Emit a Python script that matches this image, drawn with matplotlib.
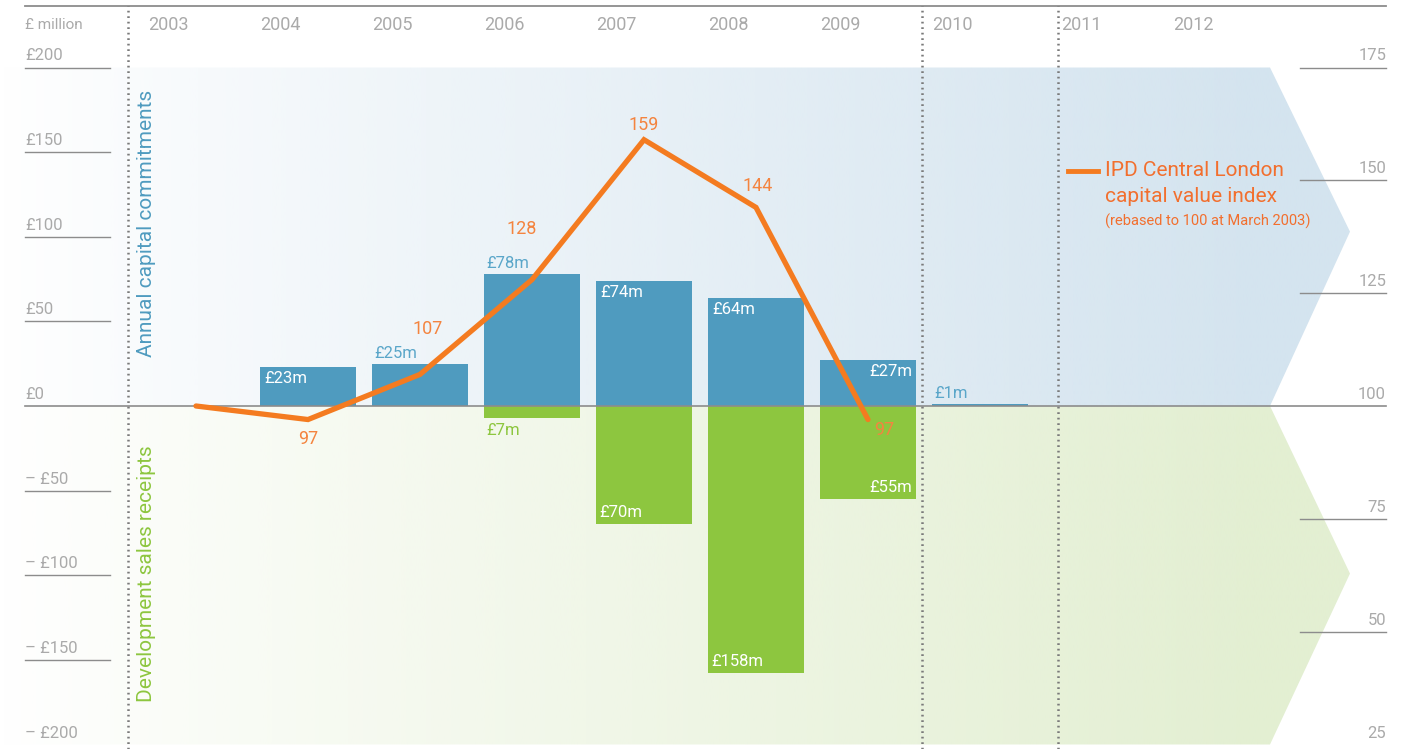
import numpy as np
import matplotlib
matplotlib.use("Agg")
import matplotlib.pyplot as plt
from matplotlib.patches import Polygon
from matplotlib.transforms import blended_transform_factory

# data
years = [2004, 2005, 2006, 2007, 2008, 2009, 2010]
commitments = [23, 25, 78, 74, 64, 27, 1]          # £m, above zero
receipts = [0, 0, 7, 70, 158, 55, 0]               # £m, drawn below zero
index_years = [2003, 2004, 2005, 2006, 2007, 2008, 2009]
index_values = [100, 97, 107, 128, 159, 144, 97]

year_labels = ["2003", "2004", "2005", "2006", "2007", "2008", "2009", "2010", "2011", "2012"]
left_ticks = [200, 150, 100, 50, 0, -50, -100, -150, -200]
left_tick_labels = ["£200", "£150", "£100", "£50", "£0", "– £50", "– £100", "– £150", "– £200"]
right_ticks = [175, 150, 125, 100, 75, 50, 25]

BLUE = "#4f9bbf"
BLUE_TXT = "#5aa6c9"
GREEN = "#8dc63f"
ORANGE = "#f47b20"
ORANGE_TXT = "#f4843f"
GREY = "#8c8c8c"
GREY_TXT = "#aaaaaa"
FW = "normal"

plt.rcParams['font.family'] = ['Roboto', 'DejaVu Sans']

W, H = 1402, 749
fig = plt.figure(figsize=(W / 100, H / 100), dpi=100)
ax = fig.add_axes([0, 0, 1, 1])
ax.axis("off")

# pixel -> data helpers for layout (x: 112 px per year, y: 1.6925 px per £m)
px_year, px_m = 112.0, 1.6925
x0 = 2003 - 148 / px_year
x1 = x0 + W / px_year
ytop = 406 / px_m
ybot = -(H - 406) / px_m
ax.set_xlim(x0, x1)
ax.set_ylim(ybot, ytop)


def px_x(p):
    return x0 + p / px_year


# gradient background arrows
def gradient_arrow(color, pts):
    poly = Polygon(pts, closed=True, facecolor="none", edgecolor="none")
    ax.add_patch(poly)
    n = 400
    rgba = np.zeros((1, n, 4))
    rgba[..., :3] = matplotlib.colors.to_rgb(color)
    t = np.linspace(0, 1, n)
    rgba[0, :, 3] = np.clip(t * 1.08, 0, 1) ** 0.9
    im = ax.imshow(rgba, extent=[px_x(0), px_x(1360), ybot, ytop], aspect="auto",
                   interpolation="bilinear", zorder=0)
    im.set_clip_path(poly)


xr, xt = px_x(1270), px_x(1350)
gradient_arrow("#d4e4ef", [(x0, 0), (x0, 200), (xr, 200), (xt, 103), (xr, 0)])
gradient_arrow("#e3efd2", [(x0, 0), (x0, -200), (xr, -200), (xt, -99), (xr, 0)])

# top rule, zero line, dotted separators
axf = blended_transform_factory(ax.transAxes, ax.transData)
ax.plot([25 / W, 1386 / W], [ytop - 6 / px_m] * 2, color=GREY, lw=1.3, transform=axf, zorder=3)
ax.plot([25 / W, 1386 / W], [0, 0], color=GREY, lw=1.2, transform=axf, zorder=3)
for p in [128, 922, 1058]:
    ax.plot([px_x(p)] * 2, [ybot, ytop - 6 / px_m], color="#7a7a7a", lw=1.8,
            linestyle=(0, (0.7, 1.5)), zorder=3)

# left ticks (no rule under the bottom label: it falls off the page)
for v, lab in zip(left_ticks, left_tick_labels):
    if v not in (0, -200):
        ax.plot([25 / W, 110 / W], [v, v], color=GREY, lw=1, transform=axf, zorder=3)
    ax.text(25 / W, v + 4 / px_m, lab, transform=axf, ha="left", va="bottom",
            fontsize=12, color=GREY_TXT, fontweight=FW)
ax.text(25 / W, ytop - 25 / px_m, "£ million", transform=axf, ha="left", va="center",
        fontsize=11, color=GREY_TXT, fontweight=FW)

# year labels
for i, lab in enumerate(year_labels):
    xpos = 2003 + i + (0.15 if i >= 8 else 0)
    ax.text(xpos, ytop - 25 / px_m, lab, ha="left", va="center", fontsize=13,
            color=GREY_TXT, fontweight=FW)

# bars
bw = 96 / px_year
ax.bar(years, commitments, width=bw, align="edge", color=BLUE, zorder=2)
ax.bar(years, [-r for r in receipts], width=bw, align="edge", color=GREEN, zorder=2)

# bar labels: placement per bar (inside-left, inside-right, above)
top_place = ["in", "above", "above", "in", "in", "in_r", "above"]
for yr, v, pl in zip(years, commitments, top_place):
    txt = f"£{v}m"
    if pl == "in":
        ax.text(yr + 4 / px_year, v - 4 / px_m, txt, ha="left", va="top", color="white",
                fontsize=12, fontweight=FW, zorder=5)
    elif pl == "in_r":
        ax.text(yr + bw - 4 / px_year, v - 4 / px_m, txt, ha="right", va="top", color="white",
                fontsize=12, fontweight=FW, zorder=5)
    else:
        ax.text(yr + 2 / px_year, v + 3 / px_m, txt, ha="left", va="bottom", color=BLUE_TXT,
                fontsize=12, fontweight=FW, zorder=5)

bot_place = [None, None, "below", "in", "in", "in_r", None]
for yr, v, pl in zip(years, receipts, bot_place):
    if pl is None:
        continue
    txt = f"£{v}m"
    if pl == "in":
        ax.text(yr + 3 / px_year, -v + 4 / px_m, txt, ha="left", va="bottom", color="white",
                fontsize=12, fontweight=FW, zorder=5)
    elif pl == "in_r":
        ax.text(yr + bw - 4 / px_year, -v + 4 / px_m, txt, ha="right", va="bottom", color="white",
                fontsize=12, fontweight=FW, zorder=5)
    else:
        ax.text(yr + 2 / px_year, -v - 5 / px_m, txt, ha="left", va="top", color=GREEN,
                fontsize=12, fontweight=FW, zorder=5)

# axis titles
ax.text(px_x(146), 108, "Annual capital commitments", rotation=90, ha="center", va="center",
        fontsize=15, color=BLUE, fontweight=FW)
ax.text(px_x(146), -99, "Development sales receipts", rotation=90, ha="center", va="center",
        fontsize=15, color=GREEN, fontweight=FW)

# index line on right axis
ax2 = ax.twinx()
ax2.axis("off")
ax2.set_ylim(100 + ybot * 0.375, 100 + ytop * 0.375)
ax2.set_xlim(x0, x1)
lx = [y + bw / 2 for y in index_years]
ax2.plot(lx, index_values, color=ORANGE, lw=3.8, solid_joinstyle="miter",
         solid_capstyle="round", zorder=6)

# index labels (dx px, dy px, ha, va)
offsets = [None, (0, -10, "center", "top"), (8, 36, "center", "bottom"),
           (-10, 42, "center", "bottom"), (0, 6, "center", "bottom"),
           (2, 12, "center", "bottom"), (6, -10, "left", "center")]
for xx, v, off in zip(lx, index_values, offsets):
    if off is None:
        continue
    dx, dy, ha, va = off
    ax2.text(xx + dx / px_year, v + dy / px_m * 0.375, str(v), ha=ha, va=va,
             color=ORANGE_TXT, fontsize=13, fontweight=FW, zorder=7)

# right ticks
axf2 = blended_transform_factory(ax2.transAxes, ax2.transData)
for v in right_ticks:
    if v not in (100, 25):
        ax2.plot([1300 / W, 1386 / W], [v, v], color=GREY, lw=1, transform=axf2)
    ax2.text(1386 / W, v + 4 / px_m * 0.375, str(v), transform=axf2, ha="right", va="bottom",
             fontsize=12, color=GREY_TXT, fontweight=FW)

# legend
ax.plot([1068 / W, 1098 / W], [(406 - 171) / px_m] * 2, color=ORANGE, lw=3.5, transform=axf)
ax.text(1105 / W, (406 - 171) / px_m, "IPD Central London", transform=axf, ha="left",
        va="center", fontsize=15, color="#f26f2e", fontweight=FW)
ax.text(1105 / W, (406 - 196) / px_m, "capital value index", transform=axf, ha="left",
        va="center", fontsize=15, color="#f26f2e", fontweight=FW)
ax.text(1105 / W, (406 - 221) / px_m, "(rebased to 100 at March 2003)", transform=axf,
        ha="left", va="center", fontsize=10.5, color="#f26f2e", fontweight=FW)

fig.savefig("out.png", dpi=100)
